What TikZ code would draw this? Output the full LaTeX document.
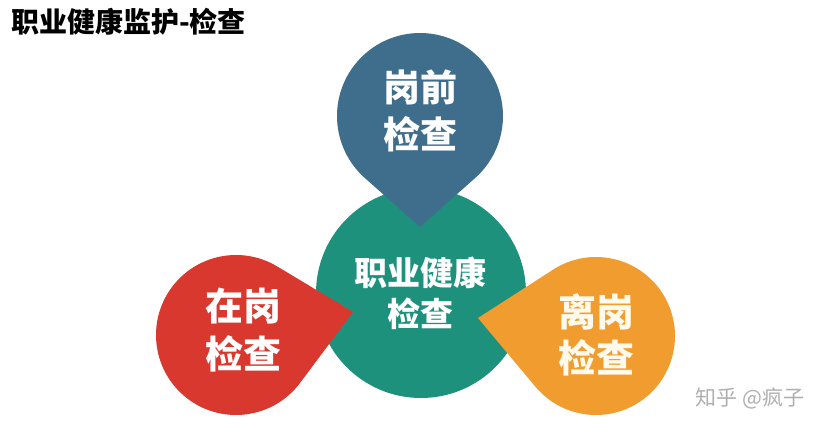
\documentclass[tikz,border=0pt]{standalone}
\usepackage{fontspec}
\newfontfamily\cjk{Noto Sans CJK SC}
\usetikzlibrary{calc}
\definecolor{cblue}{RGB}{62,110,140}
\definecolor{cteal}{RGB}{30,145,125}
\definecolor{cred}{RGB}{216,56,45}
\definecolor{corange}{RGB}{241,156,46}
\definecolor{ccream}{RGB}{255,250,235}
\definecolor{cwater}{RGB}{175,175,175}
\tikzset{
  lbl/.style={text=white, align=center, inner sep=0pt},
}
\newcommand{\teardrop}[4]{%
  \coordinate (C) at (#1);
  \coordinate (T) at (#3);
  \fill[#4] let \p1=($(T)-(C)$), \n1={atan2(\y1,\x1)}, \n2={veclen(\x1,\y1)}, \n3={acos(#2/\n2)} in
    ($(C)+(\n1+\n3:#2pt)$) -- (T) -- ($(C)+(\n1-\n3:#2pt)$)
    arc[start angle=\n1-\n3, end angle=\n1+\n3-360, radius=#2pt] -- cycle;
}
\begin{document}
\begin{tikzpicture}[x=1pt,y=1pt]
\useasboundingbox[fill=white] (0,0) rectangle (839,-434);
% title
\node[anchor=west, inner sep=0pt, font=\cjk\bfseries\fontsize{28}{32}\selectfont] (title) at (11,-22) {职业健康监护-检查};
% central circle
\fill[cteal] (421,-293) circle[radius=105pt];
\node[lbl, font=\cjk\bfseries\fontsize{33}{41}\selectfont] (center) at (420,-293) {职业健康\\检查};
% top blue
\teardrop{420,-116}{83}{420,-227}{cblue}
\node[lbl, font=\cjk\bfseries\fontsize{37}{47}\selectfont] (top) at (420,-111) {岗前\\检查};
% left red
\teardrop{236,-335}{80}{353,-312}{cred}
\node[lbl, font=\cjk\bfseries\fontsize{38}{48}\selectfont] (left) at (243,-330) {在岗\\检查};
% right orange
\teardrop{596,-336}{79}{478,-318}{corange}
\node[lbl, text=ccream, font=\cjk\bfseries\fontsize{38}{46}\selectfont] (right) at (596,-335) {离岗\\检查};
% watermark
\node[inner sep=0pt, text=cwater, font=\cjk\fontsize{21}{24}\selectfont] (wm) at (750,-398) {知乎 @疯子};
\end{tikzpicture}
\end{document}
